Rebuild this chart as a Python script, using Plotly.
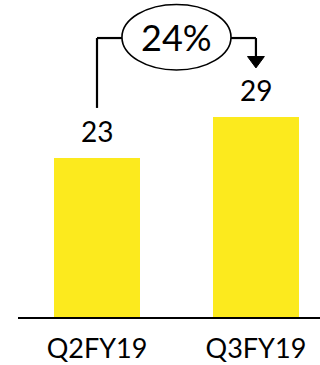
import plotly.graph_objects as go

categories = ["Q2FY19", "Q3FY19"]
values = [23, 29]
growth_label = "24%"

BAR_COLOR = "#FCEA1E"
FONT = "Lato, Carlito, 'Liberation Sans', sans-serif"

fig = go.Figure()
fig.add_trace(go.Bar(
    x=[0, 1], y=values, width=0.54,
    marker=dict(color=BAR_COLOR, line=dict(width=0)),
    hoverinfo="skip",
))

# value labels above bars
for i, v in enumerate(values):
    fig.add_annotation(x=i, y=v, text=str(v), showarrow=False,
                       yanchor="bottom", yshift=8,
                       font=dict(family=FONT, size=28, color="black"))

# growth connector
ytop = 40.43
LW = 2.2
fig.add_shape(type="line", x0=0, x1=0, y0=values[0] + 7.3, y1=ytop,
              line=dict(color="black", width=LW))
fig.add_shape(type="line", x0=0, x1=0.16, y0=ytop, y1=ytop,
              line=dict(color="black", width=LW))
fig.add_shape(type="line", x0=0.84, x1=1.0, y0=ytop, y1=ytop,
              line=dict(color="black", width=LW))
fig.add_shape(type="line", x0=1.0, x1=1.0, y0=ytop, y1=37.7,
              line=dict(color="black", width=LW))
fig.add_shape(type="path", path="M 0.947,37.75 L 1.053,37.75 L 1.0,36.1 Z",
              fillcolor="black", line=dict(color="black", width=1))
fig.add_shape(type="circle", x0=0.157, x1=0.843, y0=35.8, y1=45.3,
              line=dict(color="black", width=1.6), fillcolor="white")
fig.add_annotation(x=0.5, y=40.55, text=growth_label, showarrow=False,
                   font=dict(family=FONT, size=36, color="black"))

fig.update_layout(
    width=320, height=365,
    margin=dict(l=18, r=0, t=0, b=48),
    paper_bgcolor="white", plot_bgcolor="white",
    showlegend=False, bargap=0,
    xaxis=dict(range=[-0.497, 1.403], tickmode="array", tickvals=[0, 1],
               ticktext=categories, showgrid=False, zeroline=False,
               showline=True, linecolor="black", linewidth=1.5,
               ticks="outside", ticklen=7, tickcolor="rgba(0,0,0,0)",
               tickfont=dict(family=FONT, size=27, color="black"),
               fixedrange=True),
    yaxis=dict(range=[0, 317 / 6.9], visible=False, fixedrange=True),
)

fig.write_html("out.html")
